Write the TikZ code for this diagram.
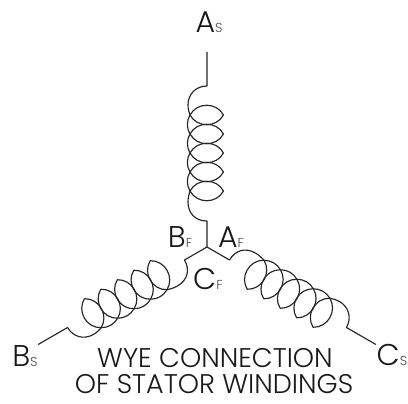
\documentclass[tikz,border=0pt]{standalone}
\usepackage{fontspec}
\setmainfont{Poppins Light}
\newcommand{\lab}[2]{{\fontsize{30}{30}\selectfont #1}{\fontsize{13}{13}\selectfont\color{black!70}#2}}
\tikzset{wire/.style={draw=black!85,line width=1.15pt,line join=round},
 txt/.style={inner sep=0pt,text=black!90}}
\newcommand{\coil}{%
  \draw[wire] (0,0) -- (0,26)
    .. controls (-11,26) and (-19,33) .. (-19,45)
    .. controls (-19,49) and (-18,53) .. (-17,56);
  \draw[wire] (-17,132) .. controls (-18,135) and (-19,138) .. (-19,142)
    .. controls (-19,153) and (-11,161) .. (0,161) -- (0,195);
  \foreach \d in {56,75,94,113,132}{
    \draw[wire] (-17,\d) .. controls (-10,\d+13) and (9.5,\d+13) .. (16.5,\d)
      .. controls (9.5,\d-13) and (-10,\d-13) .. (-17,\d);
  }
  \foreach \d in {56,75,94,113}{
    \draw[wire] (-17,\d) .. controls (-20.5,\d+6) and (-20.5,\d+13) .. (-17,\d+19);
  }
}
\begin{document}
\begin{tikzpicture}[x=1pt,y=1pt]
\useasboundingbox (0,0) rectangle (408,404);
\fill[white] (0,0) rectangle (408,404);
\coordinate (J) at (207,157);
\begin{scope}[shift={(J)}]\coil\end{scope}
\begin{scope}[shift={(J)},rotate=120]\coil\end{scope}
\begin{scope}[shift={(J)},rotate=-120]\coil\end{scope}
\node[txt] (as) at (209,382) {\lab{A}{S}};
\node[txt] (bf) at (180,167) {\lab{B}{F}};
\node[txt] (af) at (231,167) {\lab{A}{F}};
\node[txt] (cf) at (208,125) {\lab{C}{F}};
\node[txt] (bs) at (25,48) {\lab{B}{S}};
\node[txt] (cs) at (392,49) {\lab{C}{S}};
\node[txt,font=\fontsize{27}{27}\selectfont] (t1) at (215,46) {WYE CONNECTION};
\node[txt,font=\fontsize{27}{27}\selectfont] (t2) at (214,20) {OF STATOR WINDINGS};
\end{tikzpicture}
\end{document}
